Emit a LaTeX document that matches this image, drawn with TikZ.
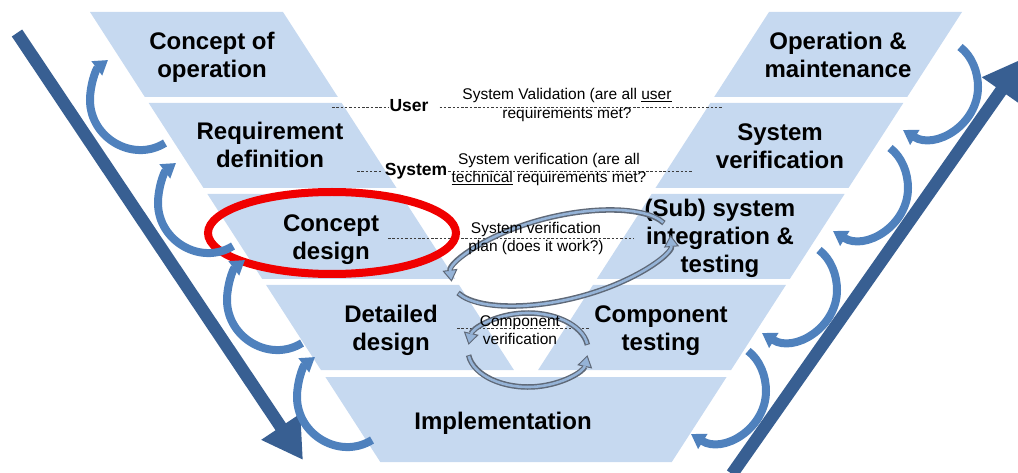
\documentclass[tikz,border=0pt]{standalone}
\usepackage{fontspec}
\setmainfont{Liberation Sans}
\usetikzlibrary{arrows.meta}
\definecolor{bandblue}{RGB}{198,217,240}
\definecolor{darkarrow}{RGB}{56,95,146}
\definecolor{midarrow}{RGB}{79,129,189}
\definecolor{loopgray}{RGB}{95,105,120}
\definecolor{loopfill}{RGB}{149,179,215}
\definecolor{dashgray}{RGB}{60,60,60}
\definecolor{ellred}{RGB}{240,0,0}
\begin{document}
\begin{tikzpicture}[x=1pt,y=-1pt,
  band/.style={fill=bandblue},
  lbl/.style={font=\fontsize{24}{28}\selectfont\bfseries, align=center, inner sep=0pt},
  small/.style={font=\fontsize{15.5}{18.5}\selectfont, align=center, inner sep=0pt},
  smallbold/.style={font=\fontsize{17.5}{20}\selectfont\bfseries, inner sep=1pt},
  dashline/.style={draw=dashgray, line width=0.7pt, dash pattern=on 2.5pt off 1.8pt},
  bigarrow/.style={draw=darkarrow, line width=12.5pt, -{Triangle[width=44pt,length=40pt]}},
  curvearrow/.style={draw=midarrow, line width=8pt, -{Triangle[width=17pt,length=14pt]}},
  loopouter/.style={draw=loopgray, line width=5.5pt, -{Triangle[width=15pt,length=12pt,fill=loopfill,line width=1pt]}},
  loopinner/.style={draw=loopfill, line width=2.6pt, shorten >=11pt, shorten <=1pt},
]
\useasboundingbox (0,0) rectangle (1018,473);

% ---- bands of the V ----
\def\W{193}
\foreach \yt/\yb in {12/97, 103/188, 194/279, 285/370}{
  \fill[band] ({90+0.645*(\yt-12)},\yt) -- ({90+0.645*(\yt-12)+\W},\yt)
     -- ({90+0.645*(\yb-12)+\W},\yb) -- ({90+0.645*(\yb-12)},\yb) -- cycle;
  \fill[band] ({962-0.645*(\yt-12)-\W},\yt) -- ({962-0.645*(\yt-12)},\yt)
     -- ({962-0.645*(\yb-12)},\yb) -- ({962-0.645*(\yb-12)-\W},\yb) -- cycle;
}
\fill[band] (325.4,377) -- (726.6,377) -- (671.8,462) -- (380.3,462) -- cycle;

% ---- big arrows ----
\coordinate (dA) at (17,33);
\coordinate (dB) at (303,460);
\coordinate (uA) at (732,474);
\coordinate (uB) at (1024,58);
\draw[bigarrow] (dA) -- (dB);
\draw[bigarrow] (uA) -- (uB);

% ---- dashed lines (behind the ellipse) ----
\node[smallbold] (user) at (409,105.5) {User};
\node[smallbold] (system) at (416,171.5) {System};
\coordinate (u1) at (332,107);
\coordinate (u2) at (723,107);
\coordinate (s1) at (357,171);
\coordinate (s2) at (693,171);
\coordinate (p1) at (388,238);
\coordinate (p2) at (634,238);
\coordinate (c1) at (457,328);
\coordinate (c2) at (590,328);
\draw[dashline] (u1) -- (u1 -| user.west);
\draw[dashline] ([xshift=10pt]u1 -| user.east) -- (u2);
\draw[dashline] (s1) -- ([xshift=-3pt]s1 -| system.west);
\draw[dashline] (s1 -| system.east) -- (s2);
\draw[dashline] (p1) -- (p2);
\draw[dashline] (c1) -- (c2);

% ---- red ellipse ----
\draw[draw=ellred, line width=8pt] (332,233) ellipse [x radius=124pt, y radius=41pt];

% ---- small curved arrows, left side (upwards) ----
\foreach \tx/\ty in {165/143, 233/246, 302/343, 372/440}{
  \begin{scope}[shift={(\tx,\ty)}]
    \draw[curvearrow] (0,0) .. controls (-32,20) and (-75,-5) .. (-75,-43)
       .. controls (-75,-58) and (-69,-74) .. (-57,-83);
  \end{scope}
}
% ---- small curved arrows, right side (downwards) ----
\foreach \tx/\ty in {960/47, 890/148, 819/250, 748/351}{
  \begin{scope}[shift={(\tx,\ty)}]
    \draw[curvearrow] (0,0) .. controls (12,9) and (18,25) .. (18,40)
       .. controls (18,78) and (-25,103) .. (-57,83);
  \end{scope}
}

% ---- band labels ----
\node[lbl] (conop) at (212,56.9) {Concept of\\operation};
\node[lbl] (reqdef) at (270,145.3) {Requirement\\definition};
\node[lbl] (condes) at (331,239.3) {Concept\\design};
\node[lbl] (detdes) at (391,330) {Detailed\\design};
\node[lbl] (impl) at (503,423) {Implementation};
\node[lbl] (comptest) at (661,331) {Component\\testing};
\node[lbl] (subsys) at (720,238.7) {(Sub) system\\integration \&\\testing};
\node[lbl] (sysver) at (780,146.4) {System\\verification};
\node[lbl] (opmain) at (838,55) {Operation \&\\maintenance};

% ---- verification loops ----
\begin{scope}[shift={(561,258)}, rotate=13]
  \draw[loopouter] (15:112pt and 42pt) arc[start angle=15, end angle=178, x radius=112pt, y radius=42pt];
  \draw[loopinner] (15:112pt and 42pt) arc[start angle=15, end angle=178, x radius=112pt, y radius=42pt];
  \draw[loopouter] (195:112pt and 42pt) arc[start angle=195, end angle=357, x radius=112pt, y radius=42pt];
  \draw[loopinner] (195:112pt and 42pt) arc[start angle=195, end angle=357, x radius=112pt, y radius=42pt];
\end{scope}
\begin{scope}[shift={(528,350)}]
  \draw[loopouter] (8:60pt and 37pt) arc[start angle=8, end angle=172, x radius=60pt, y radius=37pt];
  \draw[loopinner] (8:60pt and 37pt) arc[start angle=8, end angle=172, x radius=60pt, y radius=37pt];
  \draw[loopouter] (188:60pt and 37pt) arc[start angle=188, end angle=352, x radius=60pt, y radius=37pt];
  \draw[loopinner] (188:60pt and 37pt) arc[start angle=188, end angle=352, x radius=60pt, y radius=37pt];
\end{scope}

% ---- small texts ----
\node[small] (valid) at (567,104.8) {System Validation (are all \underline{user}\\requirements met?};
\node[small] (verif) at (549,169.7) {System verification (are all\\\underline{technical} requirements met?};
\node[small] (plan) at (536,238.6) {System verification\\plan (does it work?)};
\node[small] (compver) at (520,330) {Component\\verification};
\end{tikzpicture}
\end{document}
